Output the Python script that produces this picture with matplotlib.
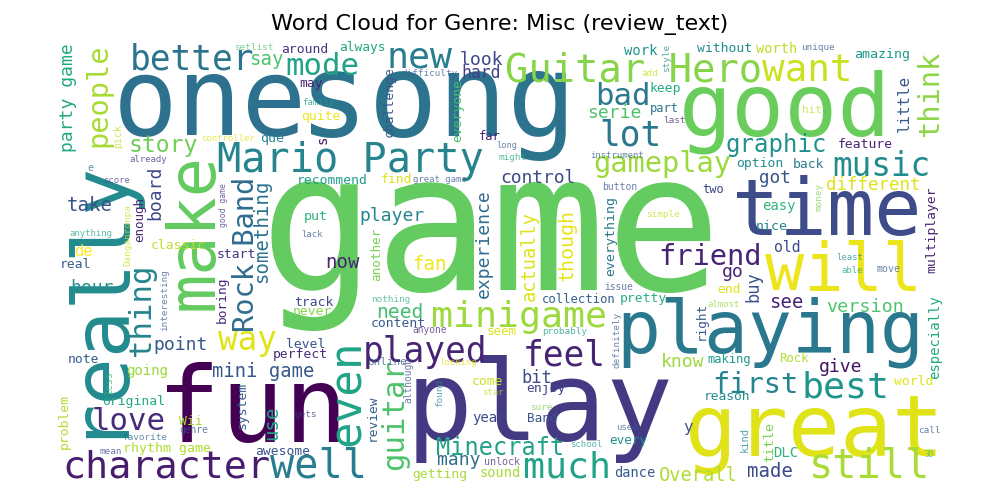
import matplotlib.pyplot as plt

# ---- data: words and their relative frequency (% of the top word) ----------
WORDS = [
    "game", "one", "song", "good", "fun", "play", "great", "time", "playing", "will",
    "really", "make", "Guitar Hero", "want", "Mario Party", "character", "well",
    "minigame", "still", "much", "even", "better", "new", "lot", "best", "music",
    "feel", "played", "way", "mode", "bad", "thing", "guitar", "love", "first",
    "people", "gameplay", "Rock Band", "friend", "think", "graphic", "Minecraft",
    "story", "different", "something", "take", "now", "fan", "say", "need", "see",
    "made", "Overall", "version", "use", "mini game", "actually", "though",
    "experience", "control", "player", "point", "hour", "board", "know", "give",
    "serie", "got", "buy", "go", "bit", "little", "look", "hard", "many", "de", "y",
    "old", "year", "easy", "world", "especially", "DLC", "going", "sound", "dance",
    "worth", "work", "nice", "put", "que", "Wii", "amazing", "title", "rhythm game",
    "multiplayer", "everything", "classic", "real", "note", "original", "problem",
    "system", "level", "perfect", "awesome", "getting", "track", "never", "start",
    "boring", "content", "come", "enjoy", "collection", "pretty", "right", "reason",
    "every", "Band", "another", "Rock", "making", "end", "two", "option", "back",
    "feature", "keep", "part", "without", "around", "always", "may", "quite",
    "challenge", "everyone", "recommend", "find", "enough", "far", "review",
    "party game", "Danganronpa", "interesting", "good game", "anything", "already",
    "pick", "e", "score", "less", "favorite", "mean", "genre", "gets", "online",
    "although", "looking", "found", "seem", "anyone", "nothing", "lack", "issue",
    "almost", "definitely", "probably", "star", "sure", "unlock", "used", "school",
    "kind", "call", "3D", "least", "able", "move", "money", "simple", "button",
    "instrument", "long", "might", "D", "last", "hit", "add", "style", "unique",
    "difficulty", "family", "setlist", "controller", "great game", "s",
]
FREQ = [
    100, 56, 60, 46, 55, 58, 45, 41, 38, 34,
    41, 34, 20.2, 19.6, 21, 20, 21,
    19, 21, 19, 23, 18, 19, 18, 19, 17,
    18, 18, 17, 16, 16, 16, 16, 16, 15,
    15, 15, 15, 15, 15, 12.5, 12.3,
    12, 9.1, 9.9, 9.9, 9.9, 9.9, 9.9, 10.2, 9.9,
    9.9, 9.7, 9.6, 9.9, 9.8, 9.7, 10.4,
    9.4, 9.3, 9.4, 9.4, 9.4, 9.4, 9.4, 9.4,
    9.4, 9.2, 8.9, 9.4, 8.9, 8.3, 9.4, 8.6, 9.4, 8.1, 8.3,
    7.7, 7.3, 7.3, 6.8, 7.3, 7.3, 7.3, 7.1, 7.1,
    7.1, 7.2, 7.0, 7.0, 7.0, 6.8, 7.0, 7.0, 6.9,
    6.8, 6.9, 6.8, 6.8, 6.8, 6.8, 6.8,
    6.8, 6.8, 6.8, 6.8, 6.8, 6.8, 6.8, 6.8,
    6.7, 6.8, 6.8, 6.8, 6.4, 6.8, 6.6, 6.7,
    6.6, 6.6, 6.6, 6.4, 6.3, 6.8, 6.3, 6.8, 6.8,
    6.8, 6.8, 6.3, 6.8, 6.8, 6.7, 6.8, 6.8,
    6.8, 6.8, 6.8, 6.8, 6.5, 6.3, 6.7,
    9.4, 4.8, 4.8, 4.2, 4.7, 4.7,
    5.2, 5.2, 4.7, 5.2, 4.9, 4.9, 5.0, 4.9, 5.7,
    5.0, 4.7, 4.8, 6.5, 5.0, 4.8, 4.7, 5.0,
    4.7, 4.8, 4.9, 4.7, 4.9, 5.2, 4.7, 4.7,
    5.4, 4.9, 4.2, 4.7, 4.7, 5.2, 4.8, 4.9, 5.1,
    4.7, 4.5, 4.8, 4.7, 4.9, 5.7, 4.9, 4.8, 4.9,
    4.8, 4.7, 4.8, 4.7, 4.7, 7.3,
]

# ---- layout: (x, baseline y, rotation, viridis value) in picture pixels -----
# vertical words: x is the baseline, y is the middle of the word
LAYOUT = {
    "game": (491, 290, 0, 0.76), "one": (210, 135, 0, 0.37),
    "song": (438, 136, 0, 0.38), "good": (785, 135, 0, 0.77),
    "fun": (252, 442, 0, 0.0), "play": (540, 440, 0, 0.17),
    "great": (815, 455, 0, 0.95), "time": (827, 235, 0, 0.23),
    "playing": (770, 352, 0, 0.40), "will": (843, 290, 0, 0.97),
    "really": (116, 296, 90, 0.48), "make": (212, 232, 90, 0.76),
    "Guitar Hero": (634, 82, 0, 0.82), "want": (807, 82, 0, 0.92),
    "Mario Party": (350, 172, 0, 0.45), "character": (166, 477, 0, 0.08),
    "well": (318, 478, 0, 0.42), "minigame": (519, 327, 0, 0.85),
    "still": (869, 478, 0, 0.87), "much": (567, 477, 0, 0.58),
    "even": (360, 393, 90, 0.58), "better": (192, 70, 0, 0.38),
    "new": (419, 68, 0, 0.42), "lot": (630, 145, 0, 0.40),
    "best": (845, 397, 0, 0.52), "music": (881, 176, 0, 0.48),
    "feel": (564, 365, 0, 0.10), "played": (425, 362, 0, 0.10),
    "way": (247, 350, 0, 0.95), "mode": (322, 75, 0, 0.58),
    "bad": (623, 105, 0, 0.40), "thing": (150, 310, 90, 0.45),
    "guitar": (403, 415, 90, 0.72), "love": (129, 430, 0, 0.12),
    "first": (755, 393, 0, 0.45), "people": (106, 95, 90, 0.87),
    "gameplay": (662, 172, 0, 0.85), "Rock Band": (254, 254, 90, 0.35),
    "friend": (710, 265, 0, 0.10), "think": (938, 94, 90, 0.83),
    "graphic": (776, 152, 0, 0.50), "Minecraft": (500, 455, 0, 0.58),
    "story": (163, 152, 0, 0.78), "different": (873, 190, 0, 0.95),
    "something": (267, 231, 90, 0.38), "take": (90, 211, 0, 0.25),
    "now": (342, 268, 0, 0.10), "fan": (429, 270, 0, 0.98),
    "say": (266, 65, 0, 0.72), "need": (400, 318, 0, 0.70),
    "see": (786, 308, 0, 0.10), "made": (770, 477, 0, 0.22),
    "Overall": (698, 481, 0, 0.88), "version": (865, 312, 0, 0.72),
    "use": (277, 423, 90, 0.58), "mini game": (263, 377, 0, 0.28),
    "actually": (535, 256, 90, 0.95), "though": (573, 245, 90, 0.96),
    "experience": (489, 244, 90, 0.35), "control": (538, 183, 0, 0.22),
    "player": (392, 221, 0, 0.45), "point": (181, 350, 0, 0.28),
    "hour": (92, 293, 0, 0.50), "board": (160, 193, 90, 0.22),
    "know": (683, 367, 0, 0.85), "give": (841, 372, 0, 0.05),
    "serie": (614, 118, 0, 0.72), "got": (775, 183, 0, 0.25),
    "buy": (758, 287, 90, 0.26), "go": (733, 277, 0, 0.10),
    "bit": (537, 383, 0, 0.22), "little": (909, 104, 90, 0.28),
    "look": (481, 65, 0, 0.22), "hard": (481, 78, 0, 0.18),
    "many": (459, 465, 0, 0.35), "de": (83, 256, 0, 1.0),
    "y": (688, 432, 0, 0.25), "old": (787, 252, 0, 0.22),
    "year": (489, 422, 0, 0.22), "easy": (779, 210, 0, 0.65),
    "world": (914, 385, 0, 0.95), "especially": (939, 337, 90, 0.60),
    "DLC": (786, 457, 0, 0.65), "going": (147, 375, 0, 0.85),
    "sound": (500, 477, 0, 0.87), "dance": (635, 477, 0, 0.28),
    "worth": (777, 53, 0, 0.90), "work": (641, 55, 0, 0.50),
    "nice": (772, 230, 0, 0.45), "put": (316, 220, 0, 0.65),
    "que": (272, 142, 0, 0.45), "Wii": (191, 425, 0, 0.87),
    "amazing": (882, 58, 0, 0.55), "title": (773, 442, 90, 0.80),
    "rhythm game": (167, 452, 0, 0.88), "multiplayer": (935, 230, 90, 0.10),
    "everything": (614, 236, 90, 0.40), "classic": (178, 249, 0, 0.90),
    "real": (75, 268, 0, 0.30), "note": (83, 363, 0, 0.30),
    "original": (134, 405, 0, 0.60), "problem": (68, 421, 90, 0.88),
    "system": (246, 405, 90, 0.28), "level": (306, 348, 0, 0.26),
    "perfect": (300, 358, 0, 0.12), "awesome": (283, 455, 0, 0.26),
    "getting": (440, 478, 0, 0.87), "track": (314, 306, 0, 0.22),
    "never": (312, 315, 0, 0.82), "start": (236, 258, 0, 0.15),
    "boring": (226, 300, 90, 0.12), "content": (398, 327, 0, 0.28),
    "come": (487, 385, 0, 0.92), "enjoy": (546, 392, 0, 0.20),
    "collection": (579, 303, 0, 0.30), "pretty": (643, 302, 0, 0.63),
    "right": (705, 321, 90, 0.28), "reason": (727, 400, 0, 0.48),
    "every": (628, 444, 0, 0.50), "Band": (542, 422, 0, 0.25),
    "another": (380, 254, 90, 0.80), "Rock": (794, 362, 0, 0.88),
    "making": (729, 363, 0, 0.55), "end": (729, 293, 0, 0.95),
    "two": (713, 193, 0, 0.22), "option": (760, 167, 0, 0.48),
    "back": (808, 168, 0, 0.40), "feature": (865, 148, 0, 0.10),
    "keep": (665, 92, 0, 0.60), "part": (664, 112, 0, 0.38),
    "without": (725, 52, 0, 0.48), "around": (305, 53, 0, 0.15),
    "always": (362, 51, 0, 0.60), "may": (311, 87, 0, 0.10),
    "quite": (321, 120, 0, 0.97), "challenge": (393, 102, 90, 0.28),
    "everyone": (461, 111, 90, 0.70), "recommend": (332, 184, 0, 0.55),
    "find": (397, 183, 0, 0.95), "enough": (143, 220, 90, 0.10),
    "far": (490, 140, 0, 0.10), "review": (376, 418, 90, 0.30),
    "party game": (73, 98, 90, 0.60), "Danganronpa": (130, 235, 90, 0.92),
    "interesting": (167, 300, 90, 0.28), "good game": (226, 205, 90, 0.15),
    "anything": (91, 236, 0, 0.60), "already": (148, 162, 0, 0.12),
    "pick": (121, 136, 90, 0.90), "e": (90, 171, 0, 0.35),
    "score": (116, 183, 0, 0.20), "less": (112, 383, 90, 0.65),
    "favorite": (145, 440, 0, 0.33), "mean": (111, 454, 0, 0.22),
    "genre": (194, 433, 0, 0.25), "gets": (306, 417, 0, 0.15),
    "online": (387, 365, 0, 0.28), "although": (411, 380, 90, 0.25),
    "looking": (458, 365, 0, 0.95), "found": (442, 393, 90, 0.45),
    "seem": (502, 335, 0, 0.95), "anyone": (430, 333, 0, 0.12),
    "nothing": (391, 302, 0, 0.65), "lack": (312, 237, 0, 0.30),
    "issue": (619, 290, 0, 0.25), "almost": (723, 307, 0, 0.85),
    "definitely": (619, 340, 90, 0.30), "probably": (565, 334, 0, 0.55),
    "star": (493, 395, 0, 0.90), "sure": (541, 410, 0, 0.80),
    "unlock": (502, 465, 0, 0.12), "used": (627, 430, 0, 0.30),
    "school": (586, 447, 0, 0.55), "kind": (748, 440, 90, 0.45),
    "call": (929, 433, 0, 0.30), "3D": (929, 457, 0, 0.70),
    "least": (850, 260, 0, 0.50), "able": (852, 273, 0, 0.55),
    "move": (888, 272, 0, 0.30), "money": (821, 197, 90, 0.80),
    "simple": (663, 217, 0, 0.92), "button": (620, 190, 0, 0.25),
    "instrument": (617, 158, 0, 0.30), "long": (507, 148, 0, 0.30),
    "might": (513, 160, 0, 0.60), "D": (560, 127, 0, 0.30),
    "last": (674, 123, 0, 0.12), "hit": (812, 113, 0, 0.90),
    "add": (650, 76, 0, 0.92), "style": (669, 58, 90, 0.50),
    "unique": (818, 50, 0, 0.27), "difficulty": (430, 76, 0, 0.30),
    "family": (318, 105, 0, 0.55), "setlist": (254, 50, 0, 0.72),
    "controller": (228, 141, 0, 0.95), "great game": (440, 182, 0, 0.28),
    "s": (327, 140, 90, 0.05),
}

MAX_PX = 192  # pixel size of the most frequent word


def main():
    fig = plt.figure(figsize=(10, 5), dpi=100)
    ax = fig.add_axes([0.056, 0.036, 0.888, 0.888])
    ax.set_xlim(56, 944)
    ax.set_ylim(482, 38)
    ax.axis("off")
    ax.set_title("Word Cloud for Genre: Misc (review_text)", fontsize=16)

    cmap = plt.get_cmap("viridis")
    for word, freq in zip(WORDS, FREQ):
        x, y, rot, cval = LAYOUT[word]
        px = MAX_PX * freq / 100.0
        ax.text(x, y, word, fontsize=px * 0.72, family="DejaVu Sans Mono",
                color=cmap(cval), rotation=rot, rotation_mode="anchor",
                ha="center", va="baseline", clip_on=True,
                alpha=0.75 if px < 11 else 1.0)

    plt.savefig("out.png", dpi=100)


if __name__ == "__main__":
    main()
